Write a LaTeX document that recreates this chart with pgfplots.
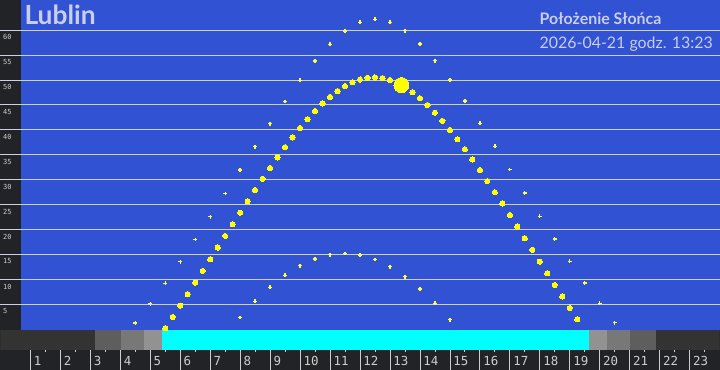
\documentclass[border=0pt]{standalone}
\usepackage{fontspec}
\setmainfont{Lato}
\newfontfamily\monofont{DejaVu Sans Mono}
\usepackage{pgfplots}
\pgfplotsset{compat=1.18}
\definecolor{darkbg}{RGB}{34,35,38}
\definecolor{plotblue}{RGB}{49,82,210}
\definecolor{bar0}{RGB}{51,51,51}
\definecolor{bar1}{RGB}{94,94,94}
\definecolor{bar2}{RGB}{120,120,120}
\definecolor{bar3}{RGB}{146,146,146}
\definecolor{daycyan}{RGB}{0,255,255}
\definecolor{gridc}{RGB}{205,208,222}
\definecolor{txt}{RGB}{200,206,235}
\definecolor{tickc}{RGB}{205,205,205}
\definecolor{sunyel}{RGB}{255,255,0}
\definecolor{smallyel}{RGB}{255,255,60}
\begin{document}
\begin{tikzpicture}
\begin{axis}[
  set layers,
  at={(0,0)}, anchor=south west,
  scale only axis, width=720bp, height=370bp,
  xmin=0, xmax=24, ymin=-8, ymax=66,
  axis line style={draw=none},
  tick pos=left,
  tick align=inside,
  major tick length=20bp,
  xtick={1,...,23},
  xticklabels={1,2,3,4,5,6,7,8,9,10,11,12,13,14,15,16,17,18,19,20,21,22,23},
  xtick style={draw=tickc, line width=0.8bp},
  xticklabel style={anchor=base west, inner sep=0pt, xshift=3.3bp, yshift=4.3bp, text=tickc, font=\monofont\fontsize{12.5}{13}\selectfont},
  ytick={5,10,...,60},
  yticklabels={5,10,15,20,25,30,35,40,45,50,55,60},
  ytick style={draw=none},
  yticklabel style={anchor=north west, inner sep=0pt, xshift=2.5bp, yshift=-4bp, text=tickc, font=\monofont\fontsize{7}{8}\selectfont},
  ymajorgrids,
  major grid style={draw=gridc, line width=0.8bp},
]
% backgrounds
\addplot[on layer=axis background, fill=darkbg, draw=none] coordinates {(0,-8) (24,-8) (24,66) (0,66)};
\addplot[on layer=axis background, fill=plotblue, draw=none] coordinates {(0.7,0) (24,0) (24,66) (0.7,66)};
% day / twilight bar
\addplot[fill=bar0, draw=none] coordinates {(0,-4) (3.167,-4) (3.167,0) (0,0)};
\addplot[fill=bar1, draw=none] coordinates {(3.167,-4) (4.023,-4) (4.023,0) (3.167,0)};
\addplot[fill=bar2, draw=none] coordinates {(4.023,-4) (4.8,-4) (4.8,0) (4.023,0)};
\addplot[fill=bar3, draw=none] coordinates {(4.8,-4) (5.4,-4) (5.4,0) (4.8,0)};
\addplot[fill=daycyan, draw=none] coordinates {(5.4,-4) (19.633,-4) (19.633,0) (5.4,0)};
\addplot[fill=bar3, draw=none] coordinates {(19.633,-4) (20.233,-4) (20.233,0) (19.633,0)};
\addplot[fill=bar2, draw=none] coordinates {(20.233,-4) (21.0,-4) (21.0,0) (20.233,0)};
\addplot[fill=bar1, draw=none] coordinates {(21.0,-4) (21.867,-4) (21.867,0) (21.0,0)};
\addplot[fill=bar0, draw=none] coordinates {(21.867,-4) (24,-4) (24,0) (21.867,0)};
% half-hour marks
\addplot[tickc, only marks, mark=|, mark size=1.2bp, mark options={line width=0.8bp}] coordinates {
(1.5,-4.25) (2.5,-4.25) (3.5,-4.25) (4.5,-4.25) (5.5,-4.25) (6.5,-4.25) (7.5,-4.25) (8.5,-4.25)
(9.5,-4.25) (10.5,-4.25) (11.5,-4.25) (12.5,-4.25) (13.5,-4.25) (14.5,-4.25) (15.5,-4.25) (16.5,-4.25)
(17.5,-4.25) (18.5,-4.25) (19.5,-4.25) (20.5,-4.25) (21.5,-4.25) (22.5,-4.25) (23.5,-4.25)};
% summer solstice path
\addplot[smallyel, only marks, mark=+, mark size=1.9bp, mark options={line width=1.3bp}] coordinates {
(4.5,1.32) (5,5.18) (5.5,9.28) (6,13.58) (6.5,18.04) (7,22.61) (7.5,27.27) (8,31.96) (8.5,36.63)
(9,41.23) (9.5,45.69) (10,49.92) (10.5,53.79) (11,57.15) (11.5,59.80) (12,61.53) (12.5,62.15)
(13,61.55) (13.5,59.85) (14,57.21) (14.5,53.86) (15,50.00) (15.5,45.77) (16,41.32) (16.5,36.72)
(17,32.05) (17.5,27.36) (18,22.71) (18.5,18.13) (19,13.67) (19.5,9.36) (20,5.26) (20.5,1.39)};
% winter solstice path
\addplot[smallyel, only marks, mark=+, mark size=1.9bp, mark options={line width=1.3bp}] coordinates {
(8,2.44) (8.5,5.66) (9,8.48) (9.5,10.88) (10,12.79) (10.5,14.17) (11,15.00) (11.5,15.26)
(12,14.93) (12.5,14.03) (13,12.57) (13.5,10.60) (14,8.15) (14.5,5.27) (15,2.00)};
% today's path
\addplot[sunyel, only marks, mark=*, mark size=2.6bp, mark options={draw=sunyel, fill=sunyel, line width=0pt}] coordinates {
(5.5,0.29) (5.75,2.53) (6,4.80) (6.25,7.10) (6.5,9.41) (6.75,11.75) (7,14.09) (7.25,16.43)
(7.5,18.77) (7.75,21.11) (8,23.42) (8.25,25.71) (8.5,27.97) (8.75,30.19) (9,32.37) (9.25,34.47)
(9.5,36.52) (9.75,38.48) (10,40.36) (10.25,42.12) (10.5,43.76) (10.75,45.26) (11,46.60) (11.25,47.77)
(11.5,48.75) (11.75,49.52) (12,50.08) (12.25,50.41) (12.5,50.50) (12.75,50.36) (13,49.98) (13.25,49.39)
(13.5,48.56) (13.75,47.54) (14,46.34) (14.25,44.97) (14.5,43.44) (14.75,41.78) (15,39.99) (15.25,38.10)
(15.5,36.12) (15.75,34.06) (16,31.94) (16.25,29.75) (16.5,27.53) (16.75,25.25) (17,22.96) (17.25,20.64)
(17.5,18.31) (17.75,15.97) (18,13.62) (18.25,11.28) (18.5,8.95) (18.75,6.64) (19,4.34) (19.25,2.08)};
% current position
\addplot[sunyel, only marks, mark=*, mark size=7.5bp, mark options={draw=sunyel, fill=sunyel, line width=0pt}] coordinates {(13.383,48.97)};
% texts
\node[anchor=base west, inner sep=0pt, text=txt, font=\bfseries\fontsize{26.5}{30}\selectfont] at (axis cs:0.8,61) {Lublin};
\node[anchor=base west, inner sep=0pt, text=txt, font=\bfseries\fontsize{16}{19}\selectfont] at (axis cs:17.99,61) {Położenie Słońca};
\node[anchor=base west, inner sep=0pt, text=txt, font=\fontsize{16}{19}\selectfont] at (axis cs:17.99,56.34) {2026-04-21 godz. 13:23};
\end{axis}
\end{tikzpicture}
\end{document}
